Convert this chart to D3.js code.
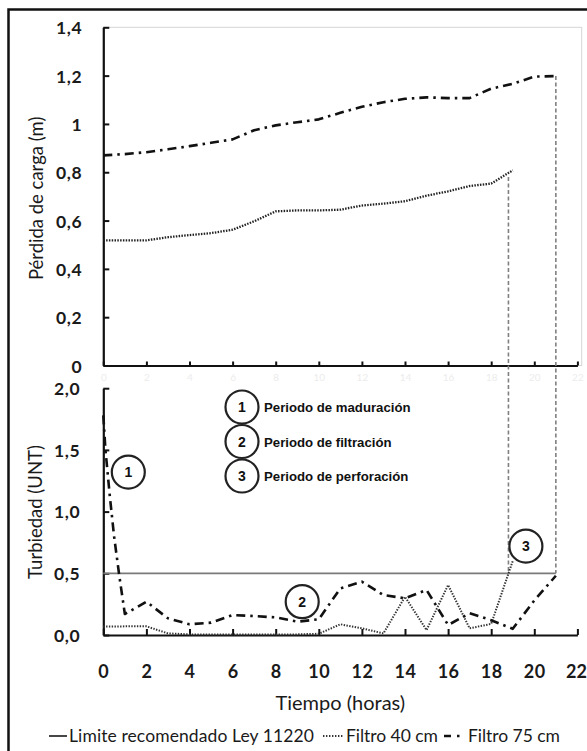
<!DOCTYPE html>
<html><head><meta charset="utf-8">
<script src="https://cdn.jsdelivr.net/npm/d3@7"></script>
<style>
body{margin:0;background:#fff;}
svg{display:block;}
</style></head><body>
<svg id="chart" width="587" height="751"></svg>
<script>
// ---------- DATA ----------
const hoursF75Top = [0,1,2,3,4,5,6,7,8,9,10,11,12,13,14,15,16,17,18,19,20,21];
const perdidaF75  = [0.870,0.875,0.883,0.895,0.908,0.922,0.936,0.974,0.994,1.007,1.019,1.046,1.071,1.090,1.104,1.110,1.107,1.107,1.146,1.166,1.196,1.198];
const hoursF40Top = [0,1,2,3,4,5,6,7,8,9,10,11,12,13,14,15,16,17,18,19];
const perdidaF40  = [0.518,0.518,0.518,0.531,0.540,0.548,0.562,0.597,0.638,0.642,0.642,0.645,0.662,0.670,0.680,0.703,0.721,0.743,0.753,0.808];

const hoursF75Bot = [0,0.1,0.3,0.5,0.75,1,2,3,4,5,6,7,8,9,10,11,12,13,14,15,16,17,18,19,20,21];
const turbF75     = [1.78,1.50,1.13,0.80,0.47,0.17,0.27,0.135,0.087,0.10,0.162,0.153,0.143,0.108,0.127,0.378,0.432,0.324,0.297,0.365,0.081,0.176,0.12,0.05,0.28,0.48];
const hoursF40Bot = [0,1,2,3,4,5,6,7,8,9,10,11,12,13,14,15,16,17,18,19];
const turbF40     = [0.068,0.07,0.07,0.013,0.005,0.005,0.005,0.005,0.005,0.005,0.01,0.087,0.054,0.013,0.31,0.04,0.405,0.054,0.09,0.60];

const limiteValor = 0.5;
const limiteHoras = [0, 21];
const perforHoras   = [18.8, 21];
const perforPerdida = [0.78, 1.198];

const xTicks = [0,2,4,6,8,10,12,14,16,18,20,22];
const xTickLabels = ["0","2","4","6","8","10","12","14","16","18","20","22"];
const topYTicks = [0,0.2,0.4,0.6,0.8,1.0,1.2,1.4];
const topYTickLabels = ["0","0,2","0,4","0,6","0,8","1","1,2","1,4"];
const botYTicks = [0,0.5,1.0,1.5,2.0];
const botYTickLabels = ["0,0","0,5","1,0","1,5","2,0"];

const periodoNums = ["1","2","3"];
const periodos = ["Periodo de maduración","Periodo de filtración","Periodo de perforación"];
const marcadorHoras = [1.16, 9.23, 19.61];
const marcadorTurb  = [1.32, 0.27, 0.72];

const legendLabels = ["Limite recomendado Ley 11220","Filtro 40 cm","Filtro 75 cm"];
const yTitleTop = "Pérdida de carga (m)";
const yTitleBot = "Turbiedad (UNT)";
const xTitle = "Tiempo (horas)";

// ---------- DRAW ----------
const svg = d3.select("#chart");
const tickFont = "Lato, 'Open Sans', sans-serif";

// outer frame
svg.append("rect").attr("x",8.5).attr("y",9.5).attr("width",600).attr("height",760)
  .attr("fill","none").attr("stroke","#111").attr("stroke-width",2.5);

const x = d3.scaleLinear().domain([0,22]).range([103.3,577.4]);
const yTop = d3.scaleLinear().domain([0,1.4]).range([365.5,27.3]);
const yBot = d3.scaleLinear().domain([0,2]).range([635,388.2]);

// top plot area light border
svg.append("rect").attr("x",x(0)).attr("y",yTop(1.4)).attr("width",581.7-x(0)).attr("height",yTop(0)-yTop(1.4))
  .attr("fill","none").attr("stroke","#d6d6d6").attr("stroke-width",1);

function styleAxis(g){
  g.select(".domain").attr("stroke","#111").attr("stroke-width",2.2).attr("stroke-linejoin","round");
  g.selectAll(".tick line").attr("stroke","#111").attr("stroke-width",2);
  g.selectAll(".tick text").attr("font-family",tickFont).attr("font-weight","bold").attr("fill","#1a1a1a");
}

// top y axis
const gyTop = svg.append("g").attr("transform",`translate(${x(0)},0)`)
  .call(d3.axisLeft(yTop).tickValues(topYTicks).tickFormat((d,i)=>topYTickLabels[i])
        .tickSizeInner(-6).tickSizeOuter(0).tickPadding(21));
styleAxis(gyTop);
gyTop.selectAll(".tick text").attr("font-size",17.5).attr("letter-spacing",0.6).attr("dy","0.38em");

// top x axis (faint labels)
const gxTop = svg.append("g").attr("transform",`translate(0,${yTop(0)})`)
  .call(d3.axisBottom(x).tickValues(xTicks).tickFormat((d,i)=>xTickLabels[i])
        .tickSizeInner(-4).tickSizeOuter(0).tickPadding(8));
styleAxis(gxTop);
gxTop.selectAll(".tick text").attr("font-size",10).attr("font-weight","normal").attr("fill","#ececec");

// bottom y axis
const gyBot = svg.append("g").attr("transform",`translate(${x(0)},0)`)
  .call(d3.axisLeft(yBot).tickValues(botYTicks).tickFormat((d,i)=>botYTickLabels[i])
        .tickSizeInner(-6).tickSizeOuter(0).tickPadding(23));
styleAxis(gyBot);
gyBot.selectAll(".tick text").attr("font-size",17.5).attr("letter-spacing",0.6).attr("dy","0.36em");

// bottom x axis
const gxBot = svg.append("g").attr("transform",`translate(0,${yBot(0)})`)
  .call(d3.axisBottom(x).tickValues(xTicks).tickFormat((d,i)=>xTickLabels[i])
        .tickSizeInner(-6).tickSizeOuter(0));
styleAxis(gxBot);
gxBot.selectAll(".tick text").attr("font-size",18).attr("letter-spacing",0.5).attr("y",37).attr("dy","0.36em");
gxBot.selectAll(".tick text").filter((d,i)=>i===xTicks.length-1).attr("letter-spacing",0).attr("x",-1.5);

// axis titles
svg.append("text").attr("transform",`translate(43,${(yTop(0)+yTop(1.4))/2+2}) rotate(-90)`)
  .attr("text-anchor","middle").attr("font-family",tickFont).attr("font-size",18.5).attr("fill","#1a1a1a").text(yTitleTop);
svg.append("text").attr("transform",`translate(42,512) rotate(-90)`)
  .attr("text-anchor","middle").attr("font-family",tickFont).attr("font-size",18.5).attr("fill","#1a1a1a").text(yTitleBot);
svg.append("text").attr("x",(x(0)+x(22))/2).attr("y",710)
  .attr("text-anchor","middle").attr("font-family",tickFont).attr("font-size",20).attr("fill","#1a1a1a").text(xTitle);

// perforation vertical dashed lines
perforHoras.forEach((h,i)=>{
  svg.append("line").attr("x1",x(h)).attr("x2",x(h)).attr("y1",yTop(perforPerdida[i])).attr("y2",yBot(limiteValor))
    .attr("stroke","#808080").attr("stroke-width",1.6).attr("stroke-dasharray","4,2.5");
});

// limit line
svg.append("line").attr("x1",x(limiteHoras[0])).attr("x2",x(limiteHoras[1]))
  .attr("y1",yBot(limiteValor)).attr("y2",yBot(limiteValor))
  .attr("stroke","#7a7a7a").attr("stroke-width",1.8);

const dotStyle = {stroke:"#222", w:2.3, dash:"1.5,1.3"};
const dashDot = {stroke:"#111", w:2.6, dash:"9,5,2.5,5"};

function drawLine(xs, ys, yScale, st){
  const pts = xs.map((h,i)=>[h, ys[i]]);
  svg.append("path").datum(pts)
    .attr("d", d3.line().x(d=>x(d[0])).y(d=>yScale(d[1])))
    .attr("fill","none").attr("stroke",st.stroke).attr("stroke-width",st.w)
    .attr("stroke-dasharray",st.dash).attr("stroke-linejoin","round");
}
drawLine(hoursF40Top, perdidaF40, yTop, dotStyle);
drawLine(hoursF75Top, perdidaF75, yTop, dashDot);
drawLine(hoursF40Bot, turbF40, yBot, {stroke:"#333", w:2, dash:"1.4,1.4"});
drawLine(hoursF75Bot, turbF75, yBot, dashDot);

// numbered circle markers on the chart
const circR = 16.5;
function circle(cx, cy, label){
  svg.append("circle").attr("cx",cx).attr("cy",cy).attr("r",circR)
    .attr("fill","none").attr("stroke","#222").attr("stroke-width",2.2);
  svg.append("text").attr("x",cx).attr("y",cy+5).attr("text-anchor","middle")
    .attr("font-family","'Liberation Sans', Arial, sans-serif").attr("font-weight","bold")
    .attr("font-size",14).attr("fill","#111").text(label);
}
marcadorHoras.forEach((h,i)=> circle(x(h), yBot(marcadorTurb[i]), periodoNums[i]));

// period key
const keyY = [407, 441.5, 476];
periodos.forEach((t,i)=>{
  circle(242, keyY[i], periodoNums[i]);
  svg.append("text").attr("x",264).attr("y",keyY[i]+5)
    .attr("font-family","'Liberation Sans', Arial, sans-serif").attr("font-weight","bold")
    .attr("font-size",13.2).attr("fill","#111").text(t);
});

// bottom legend
const legY = 742;
const lf = {family:tickFont, size:17.5};
svg.append("line").attr("x1",49).attr("x2",67).attr("y1",legY-6).attr("y2",legY-6)
  .attr("stroke","#333").attr("stroke-width",1.8);
svg.append("text").attr("x",69).attr("y",legY).attr("font-family",lf.family).attr("font-size",lf.size)
  .attr("fill","#1a1a1a").attr("textLength",245).attr("lengthAdjust","spacing").text(legendLabels[0]);
svg.append("line").attr("x1",323).attr("x2",344).attr("y1",legY-6).attr("y2",legY-6)
  .attr("stroke","#333").attr("stroke-width",1.8).attr("stroke-dasharray","1.4,1.6");
svg.append("text").attr("x",346).attr("y",legY).attr("font-family",lf.family).attr("font-size",lf.size)
  .attr("fill","#1a1a1a").attr("textLength",92).attr("lengthAdjust","spacing").text(legendLabels[1]);
svg.append("line").attr("x1",444).attr("x2",465).attr("y1",legY-6).attr("y2",legY-6)
  .attr("stroke","#111").attr("stroke-width",2.4).attr("stroke-dasharray","7,6,2.5,6");
svg.append("text").attr("x",468).attr("y",legY).attr("font-family",lf.family).attr("font-size",lf.size)
  .attr("fill","#1a1a1a").attr("textLength",92).attr("lengthAdjust","spacing").text(legendLabels[2]);
</script>
</body></html>
